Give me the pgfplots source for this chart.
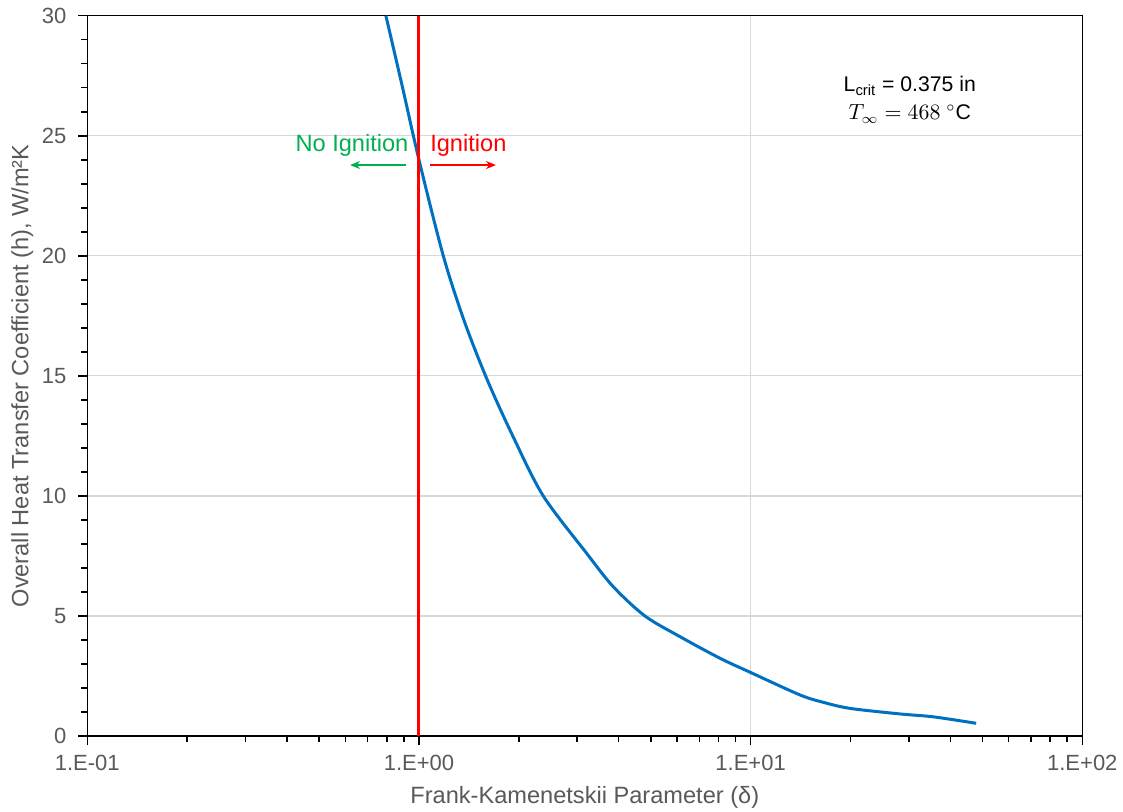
\documentclass[border=0pt]{standalone}
\usepackage{pgfplots}
\pgfplotsset{compat=1.18}
\usepackage{fontspec}
\setmainfont{Liberation Sans}
\usetikzlibrary{arrows.meta}
\definecolor{tickgray}{HTML}{595959}
\definecolor{curveblue}{HTML}{0070C0}
\definecolor{gridgray}{HTML}{D9D9D9}
\definecolor{igred}{HTML}{FF0000}
\definecolor{nogreen}{HTML}{00B050}

\begin{document}
\begin{tikzpicture}
\useasboundingbox (-43.65pt,-37.5pt) rectangle (517.85pt,368pt);
\begin{axis}[
  scale only axis, width=497.5pt, height=360.15pt,
  xmode=log, xmin=0.1, xmax=100, ymin=0, ymax=30,
  xtick={0.1,1,10,100},
  xticklabels={1.E-01,1.E+00,1.E+01,1.E+02},
  ytick={0,5,...,30}, minor y tick num=4,
  tick pos=left, tick align=outside,
  major tick length=4.5pt, minor tick length=3pt,
  tick style={black, line width=0.75pt},
  axis line style={black, line width=0.75pt},
  grid=major, major grid style={gridgray, line width=0.6pt},
  /pgf/number format/assume math mode=true,
  ticklabel style={font=\fontsize{11}{13}\selectfont, text=tickgray},
  xticklabel style={yshift=-1.5pt},
  yticklabel style={xshift=-2.5pt},
  label style={font=\fontsize{11.8}{14}\selectfont, text=tickgray},
  xlabel={Frank-Kamenetskii Parameter (δ)},
  ylabel={Overall Heat Transfer Coefficient (h), W/m²K},
  xlabel style={at={(axis description cs:0.5,-0.0847)}, anchor=center},
  ylabel style={at={(axis description cs:-0.0653,0.5)}, anchor=center},
]
\addplot[curveblue, line width=1.5pt, smooth] coordinates {
  (0.795,30) (0.891,27.05) (1.0,24.0) (1.184,20.0) (1.368,17.3)
  (1.607,14.83) (1.924,12.46) (2.37,10.0) (3.203,7.61) (3.853,6.22)
  (4.80,5.0) (6.12,4.14) (8.08,3.24) (10.02,2.64) (14.09,1.71)
  (16.60,1.40) (19.95,1.15) (28.18,0.92) (35.48,0.80) (47.86,0.53)
};
\addplot[igred, line width=1.5pt] coordinates {(1,0) (1,30)};
\addplot[nogreen, line width=0.75pt, -{Stealth[length=5pt,width=4pt]}] coordinates {(0.915,23.78) (0.620,23.78)};
\addplot[igred, line width=0.75pt, -{Stealth[length=5pt,width=4pt]}] coordinates {(1.079,23.78) (1.707,23.78)};
\node[anchor=base east, text=nogreen, font=\fontsize{11.8}{14}\selectfont, inner sep=1pt] at (axis cs:0.945,24.36) {No Ignition};
\node[anchor=base west, text=igred, font=\fontsize{11.8}{14}\selectfont, inner sep=1pt] at (axis cs:1.064,24.36) {Ignition};
\node[align=center, font=\fontsize{10.6}{14}\selectfont] at (axis cs:30.2,26.5)
  {L\textsubscript{crit} = 0.375 in\\$T_\infty = 468\ {}^\circ\mathrm{C}$};
\end{axis}
\end{tikzpicture}
\end{document}
